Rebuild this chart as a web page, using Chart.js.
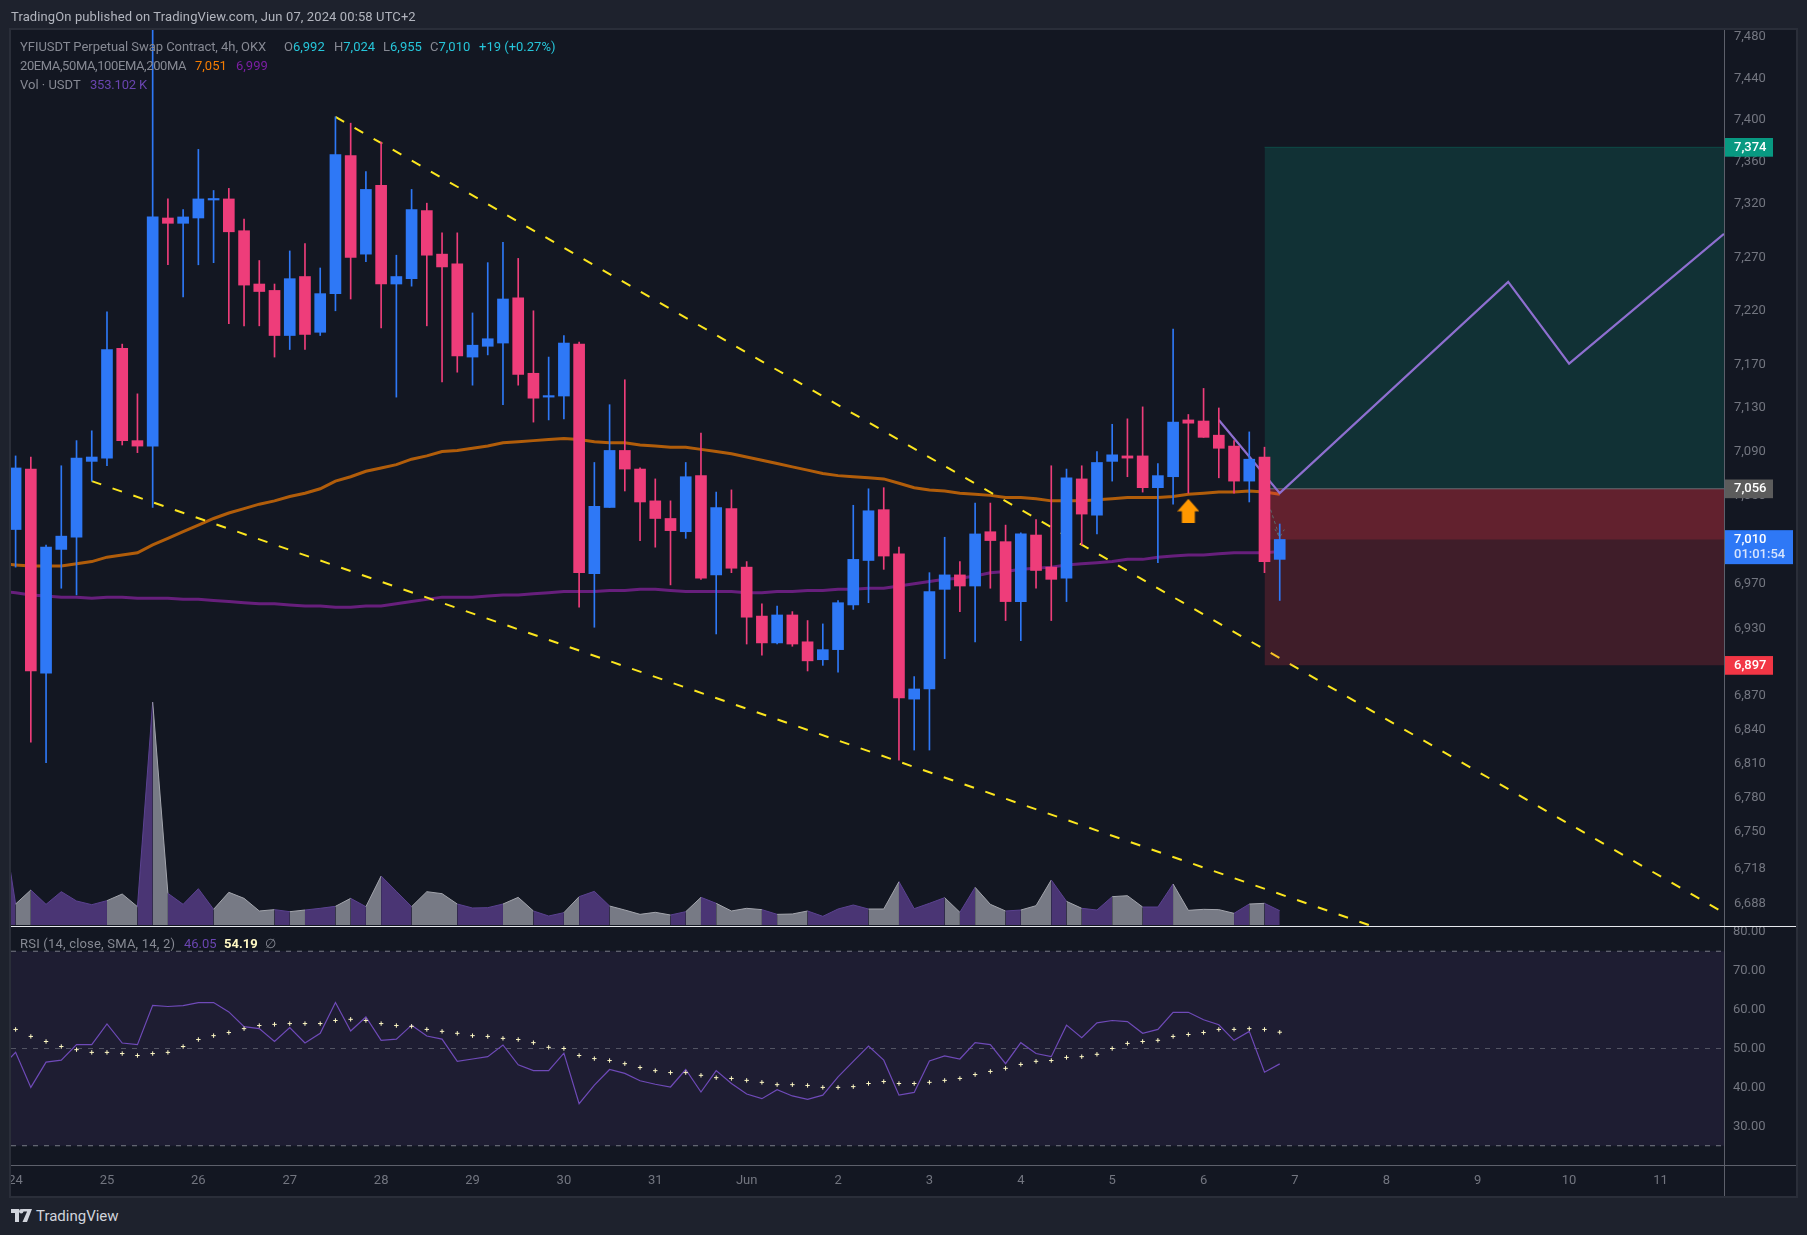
<!DOCTYPE html>
<html><head><meta charset="utf-8">
<title>YFIUSDT</title>
<script src="https://cdn.jsdelivr.net/npm/chart.js@4"></script>
<style>
html,body{margin:0;padding:0;background:#1e222d;width:1807px;height:1235px;overflow:hidden}
body{position:relative;font-family:Roboto,"Open Sans",sans-serif;font-size:13px}
#pane{position:absolute;left:11px;top:30px;width:1785px;height:1166px;background:#131722}
canvas{position:absolute;display:block}
#c1{left:0;top:0;z-index:2}
#c2{left:0;top:917px;z-index:2}
.ln{position:absolute;z-index:3}
.t{position:absolute;z-index:4;white-space:pre;line-height:16px;color:#868993}
</style></head><body>
<div id="pane"></div>
<canvas id="c1" width="1796" height="936" style="width:1796px;height:936px"></canvas>
<canvas id="c2" width="1796" height="279" style="width:1796px;height:279px"></canvas>
<div class="ln" style="left:0;top:0;width:9px;height:1235px;background:#1e222d"></div>
<div class="ln" style="left:9px;top:28px;width:2px;height:1170px;background:#2a2e39"></div>
<div class="ln" style="left:9px;top:28px;width:1789px;height:2px;background:#2a2e39"></div>
<div class="ln" style="left:1796px;top:28px;width:2px;height:1170px;background:#2a2e39"></div>
<div class="ln" style="left:9px;top:1196px;width:1789px;height:2px;background:#2a2e39"></div>
<div class="ln" style="left:1724px;top:30px;width:1px;height:1166px;background:#5d606b"></div>
<div class="ln" style="left:11px;top:926px;width:1785px;height:1px;background:#e6e8ee"></div>
<div class="ln" style="left:11px;top:1165px;width:1785px;height:1px;background:#5d606b"></div>

<div class="t" style="left:11px;top:9px;color:#b2b5be;letter-spacing:.11px">TradingOn published on TradingView.com, Jun 07, 2024 00:58 UTC+2</div>
<div class="t" style="left:20px;top:39px;letter-spacing:-.05px">YFIUSDT Perpetual Swap Contract, 4h, OKX</div>
<div class="t" style="left:284px;top:39px">O<span style="color:#26c6da">6,992</span></div>
<div class="t" style="left:334px;top:39px">H<span style="color:#26c6da">7,024</span></div>
<div class="t" style="left:383px;top:39px">L<span style="color:#26c6da">6,955</span></div>
<div class="t" style="left:430px;top:39px">C<span style="color:#26c6da">7,010</span></div>
<div class="t" style="left:479px;top:39px;color:#26c6da">+19 (+0.27%)</div>
<div class="t" style="left:20px;top:58px;letter-spacing:-.4px">20EMA,50MA,100EMA,200MA</div>
<div class="t" style="left:195px;top:58px;color:#f57c00">7,051</div>
<div class="t" style="left:236px;top:58px;color:#7b1fa2">6,999</div>
<div class="t" style="left:20px;top:77px">Vol · USDT</div>
<div class="t" style="left:90px;top:77px;color:#6a45b0;letter-spacing:-.2px">353.102 K</div>
<div class="t" style="left:20px;top:936px;letter-spacing:.2px">RSI (14, close, SMA, 14, 2)</div>
<div class="t" style="left:184px;top:936px;color:#6a45b0">46.05</div>
<div class="t" style="left:224px;top:936px;color:#fff9c4;font-weight:700">54.19</div>
<div class="t" style="left:265px;top:936px">∅</div>
<svg class="ln" style="left:11px;top:1209px" width="21" height="13" viewBox="0 0 21 13"><path fill="#d1d4dc" d="M0 0h8v13H4V4H0zM12.5 0h8.5l-5 13h-4.5l4.6-10.6H10.2A2 2 0 0 1 12.5 0z"/><circle cx="10.2" cy="2.2" r="2.2" fill="#d1d4dc"/></svg>
<div class="t" style="left:36px;top:1208px;color:#d1d4dc;font-size:15px;font-weight:400">TradingView</div>

<script>
// ---- data ----
const candleOpen=[7019,7074,6890,7001,7012,7081,7084,7185,7100,7095,
7307,7302,7307,7324,7325,7295,7245,7239,7197,7252,
7200,7236,7366,7273,7338,7245,7250,7314,7273,7264,
7177,7187,7190,7232,7162,7140,7141,7189,6979,7039,
7091,7074,7045,7029,7017,7068,6978,7038,6985,6941,
6917,6942,6918,6902,6911,6951,6991,7037,6997,6867,
6876,6965,6978,6968,7017,7008,6954,7014,6985,6975,
7065,7032,7081,7086,7086,7057,7067,7119,7118,7105,
7095,7063,7085,6992];
const candleClose=[7075,6892,7003,7013,7084,7085,7184,7100,7095,7308,
7302,7308,7325,7325,7294,7244,7238,7197,7250,7198,
7236,7367,7270,7334,7245,7252,7315,7272,7261,7178,
7188,7194,7231,7161,7139,7141,7190,6980,7040,7091,
7074,7044,7029,7018,7067,6975,7039,6984,6940,6917,
6942,6916,6901,6911,6953,6992,7036,6995,6868,6876,
6963,6978,6968,7015,7009,6954,7015,6982,6974,7066,
7033,7080,7087,7084,7057,7068,7117,7116,7103,7093,
7063,7083,6990,7010];
const candleHigh=[7086,7085,7005,7077,7100,7109,7219,7189,7143,7500,
7325,7315,7372,7333,7335,7306,7267,7245,7276,7283,
7260,7403,7397,7351,7379,7272,7334,7321,7293,7293,
7218,7265,7284,7269,7220,7177,7197,7191,7080,7133,
7156,7075,7065,7045,7080,7107,7053,7055,6990,6952,
6950,6945,6937,6934,6955,7041,7056,7057,7003,6887,
6980,7012,6990,7043,7043,7023,7016,7028,7077,7074,
7077,7090,7115,7120,7131,7079,7203,7124,7148,7130,
7100,7108,7094,7024];
const candleLow=[6985,6829,6811,6966,6960,7063,7077,7096,7089,7039,
7263,7233,7263,7265,7208,7206,7206,7177,7184,7184,
7197,7220,7231,7266,7204,7140,7243,7206,7154,7163,
7151,7179,7133,7151,7117,7119,7120,6949,6931,7039,
7054,7009,7003,6969,7011,6974,6925,6980,6916,6906,
6916,6914,6892,6897,6891,6947,6953,6983,6813,6822,
6822,6903,6945,6918,6966,6937,6919,6966,6937,6954,
7005,7015,7063,7067,7053,6989,7042,7052,7103,7066,
7052,7044,6980,6955];
// the indicator arrays below start one candle left of the frame, so their lines enter from the edge
const emaLine=[6988,6987,6986,6986,6986,6988,6990,6994,6996,6998,7005,
7011,7017,7023,7029,7034,7038,7042,7045,7049,7052,
7056,7063,7067,7072,7075,7078,7083,7086,7090,7091,
7093,7095,7098,7099,7100,7101,7102,7101,7099,7098,
7098,7096,7095,7094,7094,7092,7090,7088,7085,7082,
7079,7076,7073,7070,7068,7067,7066,7065,7061,7057,
7055,7054,7052,7051,7050,7048,7048,7047,7045,7045,
7045,7046,7047,7048,7048,7048,7049,7051,7052,7053,
7053,7054,7053,7051];
const maLine=[6963,6962,6960,6959,6958,6958,6957,6958,6958,6957,6957,
6957,6956,6956,6955,6954,6953,6952,6952,6951,6950,
6950,6949,6949,6950,6950,6952,6954,6956,6958,6958,
6958,6959,6960,6960,6961,6962,6963,6963,6963,6964,
6964,6965,6965,6964,6963,6963,6963,6963,6962,6962,
6963,6963,6964,6964,6965,6965,6966,6966,6968,6970,
6972,6974,6975,6977,6980,6981,6983,6984,6985,6987,
6988,6989,6990,6992,6992,6994,6995,6996,6996,6997,
6998,6998,6998,6999];
// volume in thousands
const volumeK=[2922,518,864,510,823,593,502,601,765,453,5506,
782,510,897,387,807,658,346,379,329,370,
412,461,658,453,1210,831,453,823,774,518,
420,428,518,683,346,222,305,700,831,469,
370,263,313,247,329,683,535,346,412,379,
263,272,346,214,395,494,395,395,1070,403,
535,675,313,930,510,346,370,477,1111,584,
412,370,700,724,444,444,1012,362,387,379,
288,518,535,353.102];
const volumeSegments="pgpppppggpgpppggggpgppgpgppgggpppggppgppggggpgpgggpggppppggpppgpggpggpgppggppggggpgp";
const rsiValues=[45.0,49.0,40.0,46.5,47.0,51.0,51.0,56.3,51.4,51.0,61.1,
60.8,61.0,61.8,61.8,59.4,55.6,55.1,51.8,55.4,51.4,
53.9,61.8,54.5,58.1,52.1,52.4,56.0,53.2,52.4,46.7,
47.3,47.9,50.9,45.8,44.3,44.3,48.8,35.8,40.6,44.6,
43.6,41.7,40.8,40.1,44.6,38.8,44.3,41.0,38.3,37.1,
39.4,37.8,36.9,38.0,42.7,46.7,50.6,47.0,38.0,38.7,
46.8,48.1,47.3,51.5,51.0,46.1,51.5,48.7,47.9,56.0,
52.8,56.6,57.2,56.9,53.9,54.9,59.3,59.3,57.4,56.1,
52.1,54.4,43.9,46.05];
const rsiSma=[54.9,53.1,51.8,50.5,49.7,49.0,49.0,48.7,48.2,48.7,
49.0,50.5,52.3,53.3,54.1,55.1,55.9,56.2,56.4,56.4,
56.4,57.2,57.5,57.2,56.4,55.9,55.7,54.9,54.4,53.9,
53.3,53.1,52.6,52.3,51.5,50.3,50.0,48.2,47.4,46.9,
46.1,45.1,44.3,43.8,43.8,43.1,42.5,42.3,41.8,41.3,
40.7,40.7,40.5,40.0,40.0,40.2,41.0,41.5,41.0,41.0,
41.3,41.8,42.3,43.3,44.1,44.9,45.9,46.7,46.9,47.7,
47.9,48.5,50.0,51.3,51.8,52.1,53.1,53.6,54.1,54.9,
54.9,55.1,54.9,54.19];
const rsiLevels=[75,50,25];
const dayLabels=['24','25','26','27','28','29','30','31','Jun','2','3','4','5','6','7','8','9','10','11'];
const candlesPerDay=6;
const priceTicks=[7480,7440,7400,7360,7320,7270,7220,7170,7130,7090,7050,6970,6930,6870,6840,6810,6780,6750,6718,6688];
const rsiTicks=[80,70,60,50,40,30];
const priceMin=6668.8, priceMax=7486.5;
const rsiMin=20.05, rsiMax=81.23;
const indexMin=-0.302, indexMax=112.17;
const volMin=-24.7, volMax=22106;
// drawings: [candle index, price]
const upperTrend=[[21,7403],[111.8,6683]];
const lowerTrend=[[5,7063],[89,6669]];
const projection=[[79,7119],[83,7052],[98,7247],[102,7171],[112.17,7292]];
const miniArrow=[[82.4,7037],[83,7012],[82.7,7019],[83,7012],[83.3,7019]];
const signalArrow=[[77,7036]];
const boxStartIndex=82;
const targetPrice=7374, entryPrice=7056, stopPrice=6897, lastPrice=7010;
const countdown='01:01:54';

// ---- helpers ----
const fmt=v=>Number(v).toLocaleString('en-US');
const BLUE='#2e78f6', PINK='#ee3d7a';
const pts=(arr,start=0)=>arr.map((y,i)=>({x:i+start,y}));
const xy=a=>a.map(([x,y])=>({x,y}));
const hline=(v)=>[{x:boxStartIndex,y:v},{x:indexMax,y:v}];
const candleColors=candleOpen.map((o,i)=>candleClose[i]>=o?BLUE:PINK);
const LABEL='#737680';
const FONT={family:'Roboto',size:13};

const arrowCanvas=document.createElement('canvas');
arrowCanvas.width=22;arrowCanvas.height=24;
(()=>{const c=arrowCanvas.getContext('2d');c.fillStyle='#ff9800';c.beginPath();
c.moveTo(11,0);c.lineTo(22,12.5);c.lineTo(17.5,12.5);c.lineTo(17.5,24);c.lineTo(4.5,24);c.lineTo(4.5,12.5);c.lineTo(0,12.5);c.closePath();c.fill();})();

const tagPlugin={id:'tags',afterDraw(chart){
  const s=chart.scales.y,c=chart.ctx;
  const tag=(v,bg,h,w,lines)=>{
    const y=s.getPixelForValue(v);
    c.save();c.fillStyle=bg;c.fillRect(1724,y-9.3,w,h);
    c.font='500 13px Roboto';c.textBaseline='middle';c.textAlign='left';
    lines.forEach((t,i)=>{c.fillStyle=i?'#d6e4fd':'#ffffff';c.fillText(t,1734,y+i*15);});
    c.restore();};
  tag(targetPrice,'#089981',18.7,49,[fmt(targetPrice)]);
  tag(entryPrice,'#5c5c5c',18.7,49,[fmt(entryPrice)]);
  tag(stopPrice,'#f23645',18.7,49,[fmt(stopPrice)]);
  tag(lastPrice,BLUE,34,69,[fmt(lastPrice),countdown]);
}};

const noFit=h=>s=>{if(h)s.height=h;else s.width=72;s.paddingTop=0;s.paddingBottom=0;s.paddingLeft=0;s.paddingRight=0;};
const xHidden={type:'linear',offset:false,grid:{offset:false},min:indexMin,max:indexMax,display:false,afterFit:s=>{s.height=0;}};
const base={responsive:false,animation:false,devicePixelRatio:1,events:[],
  plugins:{legend:{display:false},tooltip:{enabled:false},title:{display:false}}};

const line=(data,extra)=>Object.assign({type:'line',data,pointRadius:0,tension:0,fill:false,borderJoinStyle:'miter'},extra);

new Chart(document.getElementById('c1'),{
 type:'line',
 plugins:[tagPlugin],
 data:{datasets:[
  {type:'line',data:xy(signalArrow),showLine:false,pointStyle:arrowCanvas,pointRadius:6,order:0},
  line(xy(projection),{borderColor:'#8e6fd0',borderWidth:2.2,order:3}),
  {type:'bar',data:candleOpen.map((o,i)=>({x:i,y:[Math.min(o,candleClose[i]),Math.max(o,candleClose[i])]})),
   backgroundColor:candleColors,barThickness:11,grouped:false,borderWidth:0,borderSkipped:false,minBarLength:1.5,order:1},
  {type:'bar',data:candleHigh.map((h,i)=>({x:i,y:[candleLow[i],h]})),
   backgroundColor:candleColors,barThickness:1,grouped:false,borderWidth:0,borderSkipped:false,order:2},
  line(xy(miniArrow),{borderColor:'#5b6a6c',borderWidth:1,borderDash:[3,3],order:4}),
  line(hline(entryPrice),{borderColor:'rgba(130,134,140,.75)',borderWidth:1,order:5}),
  line(hline(targetPrice),{borderColor:'rgba(8,153,129,.3)',borderWidth:1,fill:{value:entryPrice},backgroundColor:'rgba(8,153,129,.2)',order:6}),
  line(hline(entryPrice),{borderWidth:0,fill:{value:stopPrice},backgroundColor:'rgba(242,54,69,.2)',order:7}),
  line(hline(entryPrice),{borderWidth:0,fill:{value:lastPrice},backgroundColor:'rgba(242,54,69,.2)',order:8}),
  line(xy(upperTrend),{borderColor:'#fce61e',borderWidth:2,borderDash:[10,12],order:9}),
  line(xy(lowerTrend),{borderColor:'#fce61e',borderWidth:2,borderDash:[10,12],order:9}),
  line(pts(emaLine,-1),{borderColor:'rgba(245,124,0,.7)',borderWidth:3,order:10}),
  line(pts(maLine,-1),{borderColor:'rgba(136,34,160,.72)',borderWidth:3,order:11}),
  line(pts(volumeK,-1),{yAxisID:'yVol',borderWidth:1,borderJoinStyle:'miter',fill:'origin',backgroundColor:'#777a85',borderColor:'#a3a5ad',order:12,
    segment:{
      backgroundColor:c=>volumeSegments[c.p0DataIndex]==='p'?'#4a3574':'#777a85',
      borderColor:c=>volumeSegments[c.p0DataIndex]==='p'?'#5b4291':'#a3a5ad'}})
 ]},
 options:Object.assign({},base,{
  layout:{padding:{left:11,top:30,right:0,bottom:10}},
  scales:{
   x:xHidden,
   y:{type:'logarithmic',position:'right',min:priceMin,max:priceMax,
      afterBuildTicks:s=>{s.ticks=priceTicks.map(value=>({value}));},
      afterFit:noFit(),
      grid:{display:false,drawTicks:false},border:{display:false},
      ticks:{autoSkip:false,padding:10,color:LABEL,font:FONT,callback:v=>fmt(v)}},
   yVol:{type:'linear',display:false,min:volMin,max:volMax,afterFit:s=>{s.width=0;}}
  }
 })
});

new Chart(document.getElementById('c2'),{
 type:'line',
 data:{datasets:[
  line(pts(rsiSma),{showLine:false,pointRadius:2.2,pointStyle:'cross',pointBorderColor:'#fff9c4',pointBorderWidth:1,order:0}),
  line(pts(rsiValues,-1),{borderColor:'#6f4ab8',borderWidth:1.2,order:1}),
  line([{x:indexMin,y:rsiLevels[0]},{x:indexMax,y:rsiLevels[0]}],{borderColor:'#787b86',borderWidth:1,borderDash:[5,6],fill:{value:rsiLevels[2]},backgroundColor:'rgba(126,87,194,.1)',order:4}),
  line([{x:indexMin,y:rsiLevels[1]},{x:indexMax,y:rsiLevels[1]}],{borderColor:'rgba(120,123,134,.6)',borderWidth:1,borderDash:[5,6],order:3}),
  line([{x:indexMin,y:rsiLevels[2]},{x:indexMax,y:rsiLevels[2]}],{borderColor:'#787b86',borderWidth:1,borderDash:[5,6],order:3})
 ]},
 options:Object.assign({},base,{
  layout:{padding:{left:11,top:10,right:0,bottom:0}},
  scales:{
   x:{type:'linear',position:'bottom',min:indexMin,max:indexMax,
      afterBuildTicks:s=>{s.ticks=dayLabels.map((_,k)=>({value:k*candlesPerDay}));},
      afterFit:noFit(31),
      grid:{display:false,drawTicks:false},border:{display:false},
      ticks:{autoSkip:false,maxRotation:0,minRotation:0,padding:8,color:LABEL,font:FONT,
        callback:v=>dayLabels[Math.round(v/candlesPerDay)]}},
   y:{type:'linear',position:'right',min:rsiMin,max:rsiMax,
      afterBuildTicks:s=>{s.ticks=rsiTicks.map(value=>({value}));},
      afterFit:noFit(),
      grid:{display:false,drawTicks:false},border:{display:false},
      ticks:{autoSkip:false,padding:9,color:LABEL,font:FONT,callback:v=>Number(v).toFixed(2)}}
  }
 })
});
</script>
</body></html>
